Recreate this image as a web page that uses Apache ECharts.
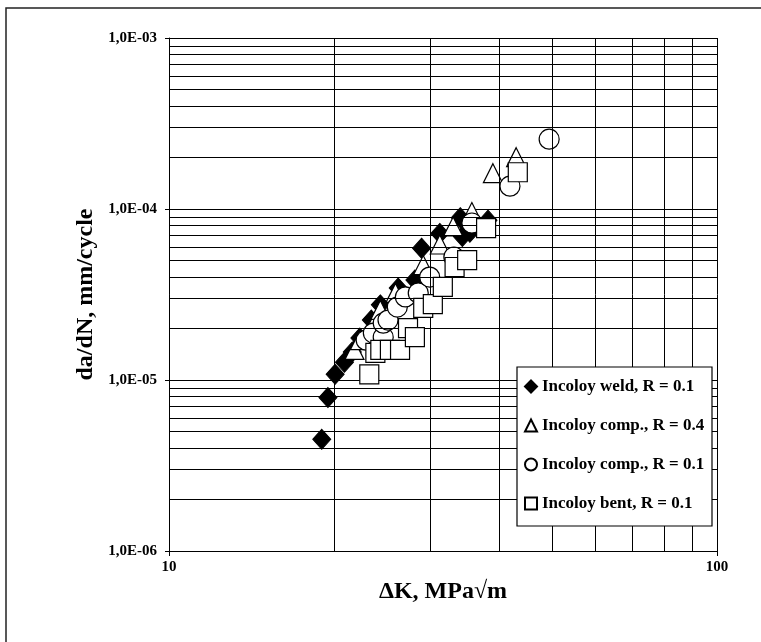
<!DOCTYPE html>
<html>
<head>
<meta charset="utf-8">
<script src="https://cdn.jsdelivr.net/npm/echarts@6/dist/echarts.min.js"></script>
<style>
html,body{margin:0;padding:0;background:#fff;}
#c{width:761px;height:642px;}
</style>
</head>
<body>
<div id="c"></div>
<script>
// ---- data (ΔK in MPa√m, da/dN in mm/cycle) ----
var seriesNames = ['Incoloy weld, R = 0.1', 'Incoloy comp., R = 0.4', 'Incoloy comp., R = 0.1', 'Incoloy bent, R = 0.1'];

var weldDK   = [19.0, 19.5, 20.1, 20.9, 21.6, 22.3, 23.4, 24.3, 26.2, 28.1, 28.9, 31.2, 34.0, 34.3, 35.4, 38.2];
var weldDadN = [4.5e-6, 7.9e-6, 1.08e-5, 1.27e-5, 1.46e-5, 1.76e-5, 2.24e-5, 2.75e-5, 3.45e-5, 3.85e-5, 5.9e-5, 7.2e-5, 8.9e-5, 6.9e-5, 7.3e-5, 8.6e-5];

var comp04DK   = [21.8, 22.3, 24.0, 24.3, 25.9, 29.1, 31.2, 33.0, 35.7, 39.0, 43.0];
var comp04DadN = [1.5e-5, 1.71e-5, 2.34e-5, 2.57e-5, 3.23e-5, 4.7e-5, 6.2e-5, 7.9e-5, 9.6e-5, 1.62e-4, 2.01e-4];

var comp01DK   = [22.9, 23.6, 24.6, 24.6, 25.1, 26.1, 27.0, 28.5, 29.9, 33.1, 35.7, 41.9, 49.4];
var comp01DadN = [1.71e-5, 1.88e-5, 1.78e-5, 2.15e-5, 2.24e-5, 2.67e-5, 3.06e-5, 3.23e-5, 4.0e-5, 5.24e-5, 8.28e-5, 1.36e-4, 2.56e-4];

var bentDK   = [23.2, 23.8, 24.3, 25.3, 26.4, 27.3, 28.1, 29.1, 30.3, 31.6, 33.2, 35.0, 37.9, 43.3];
var bentDadN = [1.08e-5, 1.44e-5, 1.5e-5, 1.5e-5, 1.5e-5, 2.01e-5, 1.78e-5, 2.64e-5, 2.78e-5, 3.5e-5, 4.58e-5, 5.03e-5, 7.74e-5, 1.64e-4];

var xTickValues = [10, 100];
var xTickLabels = ['10', '100'];
var yTickValues = [1e-6, 1e-5, 1e-4, 1e-3];
var yTickLabels = ['1,0E-06', '1,0E-05', '1,0E-04', '1,0E-03'];
var xMinorGrid = [20, 30, 40, 50, 60, 70, 80, 90];
var yMinorMultipliers = [2, 3, 4, 5, 6, 7, 8, 9];
var yDecades = [1e-6, 1e-5, 1e-4];

function zip(a, b) { return a.map(function (v, i) { return [v, b[i]]; }); }
function labelFor(values, labels, v) {
  for (var i = 0; i < values.length; i++) {
    if (Math.abs(Math.log10(v) - Math.log10(values[i])) < 1e-6) return labels[i];
  }
  return '';
}

var xMin = xTickValues[0], xMax = xTickValues[xTickValues.length - 1];
var yMin = yTickValues[0], yMax = yTickValues[yTickValues.length - 1];
var gridLineData = [];
xMinorGrid.forEach(function (v) { gridLineData.push([{ coord: [v, yMin] }, { coord: [v, yMax] }]); });
yDecades.forEach(function (d) {
  yMinorMultipliers.forEach(function (m) {
    gridLineData.push([{ coord: [xMin, d * m] }, { coord: [xMax, d * m] }]);
  });
});

var FONT = "'Liberation Serif', 'Times New Roman', serif";
var markerStyle = { color: '#fff', borderColor: '#000', borderWidth: 1.2, opacity: 1 };

var chart = echarts.init(document.getElementById('c'), null, { renderer: 'canvas' });
chart.setOption({
  animation: false,
  backgroundColor: '#fff',
  textStyle: { fontFamily: FONT },
  grid: { left: 169, right: 44, top: 38, bottom: 91, containLabel: false },
  xAxis: {
    type: 'log', logBase: 10, min: xMin, max: xMax,
    name: 'ΔK, MPa√m', nameLocation: 'middle', nameGap: 25,
    nameTextStyle: { fontFamily: FONT, fontWeight: 'bold', fontSize: 24, color: '#000' },
    axisLine: { show: true, onZero: false, lineStyle: { color: '#000', width: 1 } },
    axisTick: { show: true, inside: false, length: 5, lineStyle: { color: '#000' } },
    axisLabel: {
      fontFamily: FONT, fontWeight: 'bold', fontSize: 15, color: '#000', margin: 9,
      formatter: function (v) { return labelFor(xTickValues, xTickLabels, v); }
    },
    splitLine: { show: true, lineStyle: { color: '#000', width: 1 } }
  },
  yAxis: {
    type: 'log', logBase: 10, min: yMin, max: yMax,
    name: 'da/dN, mm/cycle', nameLocation: 'middle', nameGap: 68, nameRotate: 90,
    nameTextStyle: { fontFamily: FONT, fontWeight: 'bold', fontSize: 24, color: '#000' },
    axisLine: { show: true, onZero: false, lineStyle: { color: '#000', width: 1 } },
    axisTick: { show: true, inside: false, length: 4, lineStyle: { color: '#000' } },
    axisLabel: {
      fontFamily: FONT, fontWeight: 'bold', fontSize: 15, color: '#000', margin: 12,
      formatter: function (v) { return labelFor(yTickValues, yTickLabels, v); }
    },
    splitLine: { show: true, lineStyle: { color: '#000', width: 1 } }
  },
  legend: {
    data: seriesNames,
    orient: 'vertical',
    left: 524, top: 378,
    padding: 0,
    itemGap: 22,
    itemWidth: 12, itemHeight: 12,
    selectedMode: false,
    textStyle: { fontFamily: FONT, fontWeight: 'bold', fontSize: 17, color: '#000' },
    z: 10
  },
  graphic: [
    { type: 'rect', z: 8, silent: true,
      shape: { x: 517, y: 367, width: 195, height: 159 },
      style: { fill: '#fff', stroke: '#000', lineWidth: 1.2 } },
    { type: 'rect', z: 8, silent: true,
      shape: { x: 6, y: 8, width: 800, height: 700 },
      style: { fill: 'none', stroke: '#222', lineWidth: 1.5 } }
  ],
  series: [
    {
      name: 'grid', type: 'scatter', data: [], z: 1, silent: true,
      markLine: {
        silent: true, symbol: ['none', 'none'], animation: false,
        label: { show: false },
        emphasis: { disabled: true },
        lineStyle: { color: '#000', width: 1, type: 'solid' },
        data: gridLineData
      }
    },
    {
      name: seriesNames[0], type: 'scatter', z: 2,
      symbol: 'diamond', symbolSize: [18, 20],
      itemStyle: { color: '#000', borderColor: '#000', borderWidth: 1, opacity: 1 },
      data: zip(weldDK, weldDadN)
    },
    {
      name: seriesNames[1], type: 'scatter', z: 3,
      symbol: 'triangle', symbolSize: [19, 19],
      itemStyle: markerStyle,
      data: zip(comp04DK, comp04DadN)
    },
    {
      name: seriesNames[2], type: 'scatter', z: 4,
      symbol: 'circle', symbolSize: 20,
      itemStyle: markerStyle,
      data: zip(comp01DK, comp01DadN)
    },
    {
      name: seriesNames[3], type: 'scatter', z: 5,
      symbol: 'rect', symbolSize: 19,
      itemStyle: markerStyle,
      data: zip(bentDK, bentDadN)
    }
  ]
});
</script>
</body>
</html>
